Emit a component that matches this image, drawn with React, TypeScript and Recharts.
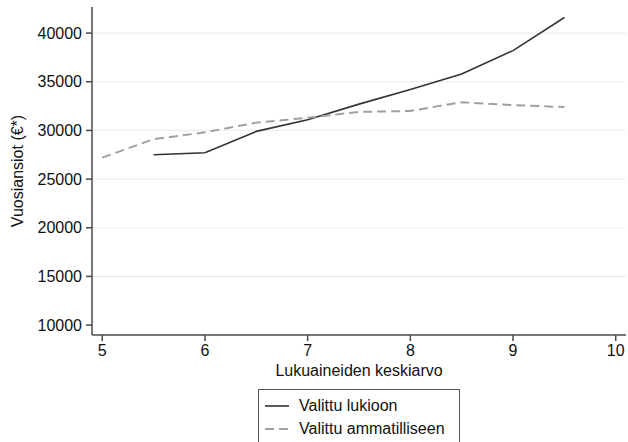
import {
  LineChart,
  Line,
  XAxis,
  YAxis,
  CartesianGrid,
  Legend,
} from "recharts";

const grades = [5, 5.5, 6, 6.5, 7, 7.5, 8, 8.5, 9, 9.5];
const lukioon = [null, 27500, 27700, 29900, 31100, 32700, 34200, 35800, 38200, 41600];
const ammatilliseen = [27200, 29100, 29800, 30800, 31300, 31900, 32000, 32900, 32600, 32400];
const xTicks = [5, 6, 7, 8, 9, 10];
const yTicks = [10000, 15000, 20000, 25000, 30000, 35000, 40000];
const gridValues = [15000, 20000, 25000, 30000, 35000, 40000];
const legendOrder = ["lukioon", "ammatilliseen"];

const data = grades.map((g, i) => ({
  x: g,
  lukioon: lukioon[i],
  ammatilliseen: ammatilliseen[i],
}));

const axisColor = "#4a4a4a";
const font = "'Liberation Sans', Arial, sans-serif";

const YLabel = (props: any) => {
  const { viewBox } = props;
  const cy = viewBox.y + viewBox.height / 2;
  const cx = 17;
  return (
    <text
      x={cx}
      y={cy}
      transform={`rotate(-90 ${cx} ${cy})`}
      textAnchor="middle"
      dominantBaseline="central"
      fill="#111"
      fontSize={16}
    >
      Vuosiansiot (€*)
    </text>
  );
};

const renderLegend = (props: any) => {
  const payload = [...props.payload].sort(
    (a: any, b: any) =>
      legendOrder.indexOf(a.dataKey) - legendOrder.indexOf(b.dataKey)
  );
  return (
    <div
      style={{
        border: "1px solid #555",
        width: 202,
        height: 60,
        boxSizing: "border-box",
        padding: "4px 0 0 6px",
        background: "#fff",
        fontFamily: font,
        fontSize: 16,
        color: "#111",
      }}
    >
      {payload.map((entry: any, index: number) => (
        <div
          key={`item-${index}`}
          style={{ display: "flex", alignItems: "center", height: 23 }}
        >
          <svg width={24} height={4} style={{ marginRight: 10 }}>
            <line
              x1={0}
              y1={2}
              x2={24}
              y2={2}
              stroke={entry.color}
              strokeWidth={entry.dataKey === "lukioon" ? 1.6 : 2}
              strokeDasharray={entry.dataKey === "lukioon" ? undefined : "9 5"}
            />
          </svg>
          <span>{entry.value}</span>
        </div>
      ))}
    </div>
  );
};

const App = () => {
  return (
    <div
      style={{
        position: "absolute",
        left: 0,
        top: 0,
        width: 628,
        height: 442,
        background: "#fff",
        fontFamily: font,
        overflow: "hidden",
      }}
    >
      <LineChart
        width={628}
        height={442}
        data={data}
        margin={{ top: 7, right: 2, left: 0, bottom: 0 }}
      >
        <CartesianGrid
          stroke="#e8f0f2"
          strokeWidth={1.2}
          vertical={false}
          horizontalValues={gridValues}
        />
        <XAxis
          dataKey="x"
          type="number"
          domain={[4.9, 10.1]}
          ticks={xTicks}
          height={107}
          tickSize={6}
          tickMargin={4}
          stroke={axisColor}
          strokeWidth={1.5}
          tick={{ fill: "#111", fontSize: 16 }}
          label={{
            value: "Lukuaineiden keskiarvo",
            position: "insideTop",
            offset: 30,
            fill: "#111",
            fontSize: 16,
          }}
        />
        <YAxis
          type="number"
          domain={[8980, 42680]}
          ticks={yTicks}
          width={92}
          tickSize={6}
          tickMargin={4}
          stroke={axisColor}
          strokeWidth={1.5}
          tick={{ fill: "#111", fontSize: 16 }}
          allowDataOverflow
          label={<YLabel />}
        />
        <Legend
          verticalAlign="middle"
          align="center"
          layout="horizontal"
          wrapperStyle={{ position: "absolute", left: 258, top: 389, width: 202 }}
          content={renderLegend}
        />
        <Line
          dataKey="lukioon"
          name="Valittu lukioon"
          stroke="#333333"
          strokeWidth={1.6}
          dot={false}
          activeDot={false}
          isAnimationActive={false}
        />
        <Line
          dataKey="ammatilliseen"
          name="Valittu ammatilliseen"
          stroke="#a0a0a0"
          strokeWidth={2}
          strokeDasharray="9 5"
          dot={false}
          activeDot={false}
          isAnimationActive={false}
        />
      </LineChart>
    </div>
  );
};

export default App;
